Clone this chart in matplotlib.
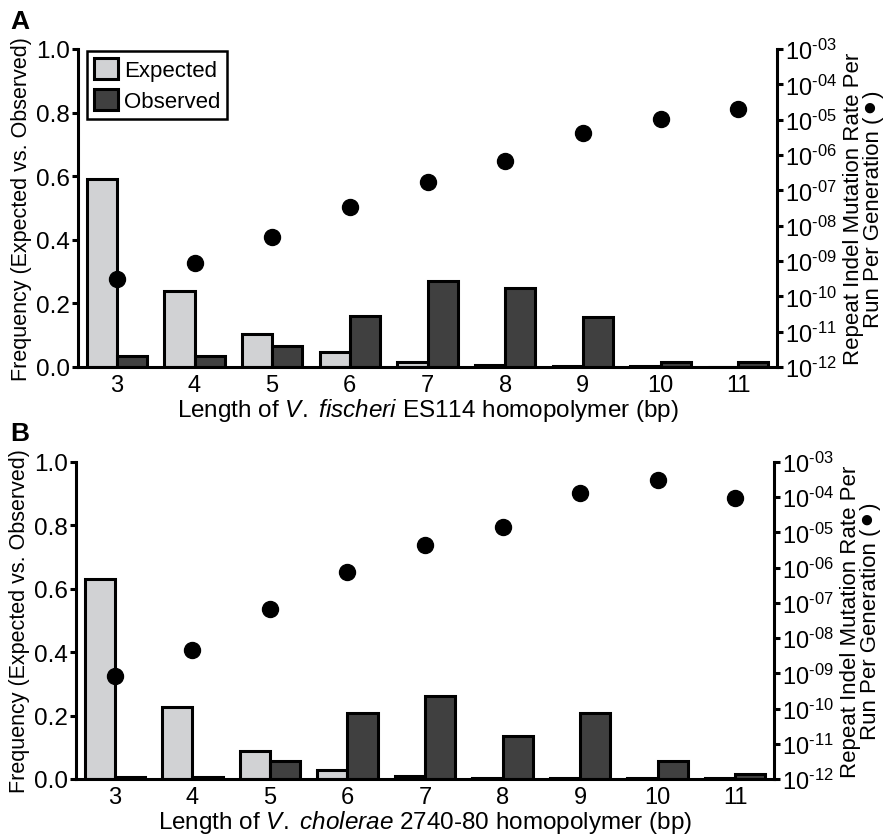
import numpy as np
import matplotlib
matplotlib.use('Agg')
import matplotlib.pyplot as plt
from matplotlib.patches import Patch
from matplotlib.ticker import FixedLocator, NullLocator

plt.rcParams['font.family'] = ['Liberation Sans', 'DejaVu Sans']
plt.rcParams['mathtext.fontset'] = 'custom'
plt.rcParams['mathtext.rm'] = 'Liberation Sans'
plt.rcParams['mathtext.it'] = 'Liberation Sans:italic'

lengths = [3, 4, 5, 6, 7, 8, 9, 10, 11]

# panel A: V. fischeri ES114
expected_a = [0.59, 0.24, 0.104, 0.048, 0.017, 0.005, 0.003, 0.002, 0.001]
observed_a = [0.036, 0.036, 0.067, 0.161, 0.27, 0.249, 0.156, 0.015, 0.015]
rate_a = [10**-9.51, 10**-9.06, 10**-8.33, 10**-7.48, 10**-6.75,
          10**-6.17, 10**-5.39, 10**-4.97, 10**-4.71]

# panel B: V. cholerae 2740-80
expected_b = [0.632, 0.226, 0.089, 0.029, 0.008, 0.004, 0.003, 0.002, 0.002]
observed_b = [0.007, 0.007, 0.058, 0.208, 0.261, 0.137, 0.208, 0.058, 0.016]
rate_b = [10**-9.08, 10**-8.34, 10**-7.17, 10**-6.11, 10**-5.36,
          10**-4.84, 10**-3.87, 10**-3.5, 10**-4.01]

freq_ticks = [0.0, 0.2, 0.4, 0.6, 0.8, 1.0]
rate_exps = list(range(-12, -2))

exp_color = '#d1d2d4'
obs_color = '#404040'
lw = 2.2


def draw_panel(ax, expected, observed, rate, strain):
    x = np.array(lengths)
    w = 0.39
    ax.bar(x - w / 2, expected, w, color=exp_color, edgecolor='black', linewidth=lw, zorder=2)
    ax.bar(x + w / 2, observed, w, color=obs_color, edgecolor='black', linewidth=lw, zorder=2)
    ax.set_xlim(2.5, 11.5)
    ax.set_ylim(0, 1)
    ax.set_xticks(lengths)
    ax.set_yticks(freq_ticks)
    ax.set_yticklabels(['%.1f' % t for t in freq_ticks])
    ax.tick_params(axis='x', length=0, labelsize=17, pad=5)
    ax.tick_params(axis='y', length=4, width=lw, labelsize=17.5, pad=2)
    for s in ['top', 'right']:
        ax.spines[s].set_visible(False)
    for s in ['left', 'bottom']:
        ax.spines[s].set_linewidth(lw)
    ax.set_ylabel('Frequency (Expected vs. Observed)', fontsize=15.5, labelpad=3)
    ax.set_xlabel('Length of $\\it{V.}$ $\\it{%s}$ %s homopolymer (bp)' % strain,
                  fontsize=17.5, labelpad=0)

    ax2 = ax.twinx()
    ax2.plot(x, rate, 'o', color='black', ms=11.5, zorder=5)
    ax2.set_yscale('log')
    ax2.set_ylim(1e-12, 1e-3)
    ax2.yaxis.set_major_locator(FixedLocator([10.0**e for e in rate_exps]))
    ax2.yaxis.set_minor_locator(NullLocator())
    ax2.set_yticklabels(['$10^{\u2010%02d}$' % (-e) for e in rate_exps])
    ax2.tick_params(axis='y', length=4, width=lw, labelsize=17, pad=2)
    for s in ['top', 'left', 'bottom']:
        ax2.spines[s].set_visible(False)
    ax2.spines['right'].set_linewidth(lw)
    ax2.set_ylabel('Repeat Indel Mutation Rate Per\nRun Per Generation (\u26ab)',
                   fontsize=16, labelpad=4, linespacing=0.95,
                   family=['Liberation Sans', 'DejaVu Sans'])
    return ax2


fig = plt.figure(figsize=(8.88, 8.37), dpi=100)
ax_a = fig.add_axes([78 / 888, 1 - 368 / 837, 699 / 888, 318 / 837])
ax_b = fig.add_axes([76 / 888, 1 - 780 / 837, 698 / 888, 317 / 837])

draw_panel(ax_a, expected_a, observed_a, rate_a, ('fischeri', 'ES114'))
draw_panel(ax_b, expected_b, observed_b, rate_b, ('cholerae', '2740-80'))

handles = [Patch(facecolor=exp_color, edgecolor='black', linewidth=lw, label='Expected'),
           Patch(facecolor=obs_color, edgecolor='black', linewidth=lw, label='Observed')]
leg = ax_a.legend(handles=handles, loc='upper left', bbox_to_anchor=(0.01, 1.0),
                  fontsize=16, fancybox=False, framealpha=1, edgecolor='black',
                  handlelength=1.1, handleheight=1.1, handletextpad=0.25,
                  borderpad=0.3, labelspacing=0.35, borderaxespad=0.1)
leg.get_frame().set_linewidth(1.8)

fig.text(10 / 888, 1 - 29 / 837, 'A', fontsize=19, fontweight='bold')
fig.text(10 / 888, 1 - 441 / 837, 'B', fontsize=19, fontweight='bold')

fig.savefig('out.png', dpi=100)
